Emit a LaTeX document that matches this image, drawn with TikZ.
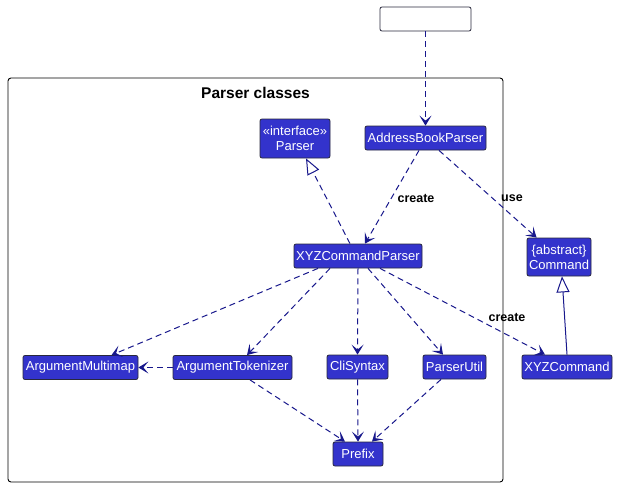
\documentclass[tikz,border=0pt]{standalone}
\usepackage{fontspec}
\setmainfont{Liberation Sans}
\usetikzlibrary{arrows.meta,calc}
\definecolor{cfill}{RGB}{51,51,204}
\definecolor{cline}{RGB}{24,24,140}
\definecolor{cborder}{RGB}{40,40,60}
\begin{document}
\begin{tikzpicture}[x=1pt,y=-1pt,
  cls/.style={rectangle,rounded corners=2pt,fill=cfill,draw=cborder,line width=0.8pt,text=white,inner sep=0pt,minimum height=24pt,font=\fontsize{13}{14}\selectfont,align=center},
  dep/.style={draw=cline,line width=1pt,dash pattern=on 6pt off 4pt,-{Stealth[length=10pt,width=12pt,inset=5pt]}},
  real/.style={draw=cline,line width=1pt,dash pattern=on 6pt off 4pt,-{Triangle[open,length=16pt,width=13pt,fill=white]}},
  gen/.style={draw=cline,line width=1pt,-{Triangle[open,length=16pt,width=13pt,fill=white]}},
  lbl/.style={font=\bfseries\fontsize{12.5}{14}\selectfont,text=black,inner sep=0pt}
]
\useasboundingbox (0,0) rectangle (618,487);
\fill[white] (0,0) rectangle (618,487);
% package frame
\node[draw=black,line width=0.9pt,rounded corners=3pt,minimum width=495pt,minimum height=404pt,inner sep=0pt] (pkg) at (255.5,280) {};
\node[font=\bfseries\fontsize{15.5}{17}\selectfont,inner sep=0pt] (title) at (255.5,93) {Parser classes};
% top empty box
\node[draw=cborder,fill=white,rounded corners=2pt,line width=0.8pt,minimum width=91pt,minimum height=24pt,inner sep=0pt] (top) at (425.5,19) {};
% classes
\node[cls,minimum width=70pt,minimum height=39pt,font=\fontsize{13}{15}\selectfont] (parser) at (295,138.5) {«interface»\\Parser};
\node[cls,minimum width=121pt] (abp) at (425.5,138) {AddressBookParser};
\node[cls,minimum width=128pt] (xcp) at (358,256) {XYZCommandParser};
\node[cls,minimum width=64pt,minimum height=38pt,font=\fontsize{13}{15}\selectfont] (cmd) at (559,257) {\{abstract\}\\Command};
\node[cls,minimum width=115pt] (amm) at (80.5,367.5) {ArgumentMultimap};
\node[cls,minimum width=119pt] (atk) at (232.5,367.5) {ArgumentTokenizer};
\node[cls,minimum width=61pt] (cli) at (357.5,367) {CliSyntax};
\node[cls,minimum width=63pt] (pu) at (454.5,367) {ParserUtil};
\node[cls,minimum width=90pt] (xc) at (567,367) {XYZCommand};
\node[cls,minimum width=50pt] (pre) at (358,454) {Prefix};
% connectors
\draw[dep] (top.south) -- (abp.north);
\draw[dep] ($(abp.south)+(-6.5,0)$) -- ($(xcp.north)+(7,0)$);
\node[lbl] (l1) at (416,198) {create};
\draw[dep] ($(abp.south)+(13.5,0)$) -- ($(cmd.north west)+(10,0)$);
\node[lbl] (l2) at (512,198) {use};
\draw[real] ($(xcp.north)+(-8,0)$) -- ($(parser.south)+(11,0)$);
\draw[dep] ($(xcp.south)+(-40,0)$) -- ($(amm.north)+(31,0)$);
\draw[dep] ($(xcp.south)+(-28,0)$) -- ($(atk.north)+(14.5,0)$);
\draw[dep] (xcp.south) -- (cli.north);
\draw[dep] ($(xcp.south)+(10,0)$) -- ($(pu.north)+(-11.5,0)$);
\draw[dep] ($(xcp.south)+(22,0)$) -- ($(xc.north)+(-22,0)$);
\node[lbl] (l3) at (507,317) {create};
\draw[gen] (xc.north) -- ($(cmd.south)+(3,0)$);
\draw[dep] (atk.west) -- (amm.east);
\draw[dep] ($(atk.south)+(17.5,0)$) -- ($(pre.north)+(-13,0)$);
\draw[dep] (cli.south) -- (pre.north);
\draw[dep] ($(pu.south)+(-13.5,0)$) -- ($(pre.north)+(14,0)$);
\end{tikzpicture}
\end{document}
